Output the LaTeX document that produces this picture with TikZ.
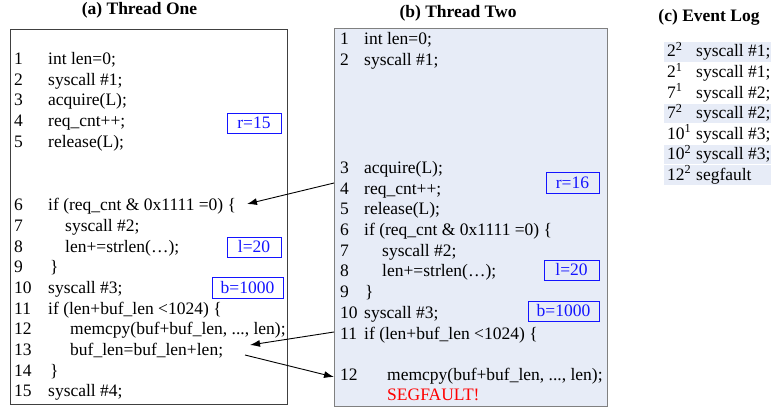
\documentclass[tikz,border=0pt]{standalone}
\usepackage{fontspec}
\setmainfont{Liberation Serif}
\usetikzlibrary{arrows.meta}
\definecolor{bgblue}{RGB}{231,236,247}
\definecolor{valblue}{RGB}{20,20,255}
\definecolor{segred}{RGB}{255,0,0}
\begin{document}
\begin{tikzpicture}[x=1pt,y=-1pt,
  code/.style={anchor=base west, inner sep=0pt, font=\fontsize{17.5}{20}\selectfont},
  ttl/.style={anchor=base, inner sep=0pt, font=\fontsize{17.5}{20}\selectfont\bfseries},
  val/.style={draw=valblue, line width=0.9pt, text=valblue, inner sep=0pt, anchor=center,
              font=\fontsize{17.5}{20}\selectfont},
  ptr/.style={-{Latex[length=10pt,width=7pt]}, line width=0.9pt},
  logrow/.style={fill=bgblue, draw=none, inner sep=0pt, anchor=north west,
                 minimum width=107, minimum height=19.5}]
\useasboundingbox (0,0) rectangle (771,412);

% titles
\node[ttl] (ta) at (139.5,15) {(a) Thread One};
\node[ttl] (tb) at (458,18) {(b) Thread Two};
\node[ttl] (tc) at (709,21.5) {(c) Event Log};

% boxes
\node[draw=black!75, line width=1pt, anchor=north west, minimum width=277, minimum height=375, inner sep=0] (boxA) at (10,29) {};
\node[draw=black!50, fill=bgblue, line width=1.2pt, anchor=north west, minimum width=273, minimum height=378, inner sep=0] (boxB) at (334,28) {};

% Thread one
\foreach \n/\y in {1/64,2/85,3/106,4/126,5/147,6/210,7/231,8/252,9/272,10/293,11/314,12/334,13/355,14/376,15/396}
  \node[code] (an\n) at (14,\y) {\n};
\node[code] (a1) at (48,64) {int len=0;};
\node[code] (a2) at (48,85) {syscall \#1;};
\node[code] (a3) at (48,106) {acquire(L);};
\node[code] (a4) at (48,126) {req\_cnt++;};
\node[code] (a5) at (48,147) {release(L);};
\node[code] (a6) at (48,210) {if (req\_cnt \& 0x1111 =0) \{};
\node[code] (a7) at (65,231) {syscall \#2;};
\node[code] (a8) at (65,252) {len+=strlen(…);};
\node[code] (a9) at (50,272) {\}};
\node[code] (a10) at (48,293) {syscall \#3;};
\node[code] (a11) at (48,314) {if (len+buf\_len <1024) \{};
\node[code] (a12) at (70,334) {memcpy(buf+buf\_len, ..., len);};
\node[code] (a13) at (70,355) {buf\_len=buf\_len+len;};
\node[code] (a14) at (50,376) {\}};
\node[code] (a15) at (48,396) {syscall \#4;};

\node[val, minimum width=54, minimum height=20] (vr1) at (254,123) {r=15};
\node[val, minimum width=54, minimum height=20] (vl1) at (254,247) {l=20};
\node[val, minimum width=71, minimum height=21] (vb1) at (247.5,287.5) {b=1000};

% Thread two
\foreach \n/\y in {1/45,2/66,3/173,4/194,5/214,6/235,7/256,8/276,9/297,10/318,11/339,12/380}
  \node[code] (bn\n) at (340,\y) {\n};
\node[code] (b1) at (364,45) {int len=0;};
\node[code] (b2) at (364,66) {syscall \#1;};
\node[code] (b3) at (364,173) {acquire(L);};
\node[code] (b4) at (364,194) {req\_cnt++;};
\node[code] (b5) at (364,214) {release(L);};
\node[code] (b6) at (364,235) {if (req\_cnt \& 0x1111 =0) \{};
\node[code] (b7) at (382,256) {syscall \#2;};
\node[code] (b8) at (382,276) {len+=strlen(…);};
\node[code] (b9) at (365,297) {\}};
\node[code] (b10) at (364,318) {syscall \#3;};
\node[code] (b11) at (364,339) {if (len+buf\_len <1024) \{};
\node[code] (b12) at (387,380) {memcpy(buf+buf\_len, ..., len);};
\node[code, text=segred] (bseg) at (387,400) {SEGFAULT!};

\node[val, minimum width=53, minimum height=21] (vr2) at (572.5,182.5) {r=16};
\node[val, minimum width=55, minimum height=20] (vl2) at (571.5,270) {l=20};
\node[val, minimum width=71, minimum height=20] (vb2) at (563.5,311) {b=1000};

% arrows
\coordinate (s1) at (334,183);
\coordinate (e1) at (247,204);
\coordinate (s2) at (334,332);
\coordinate (e2) at (250,345);
\coordinate (s3) at (245,355);
\coordinate (e3) at (334,377);
\draw[ptr] (s1) -- (e1);
\draw[ptr] (s2) -- (e2);
\draw[ptr] (s3) -- (e3);

% event log
\node[logrow] (r1) at (664,42) {};
\node[logrow] (r4) at (664,103.5) {};
\node[logrow] (r6) at (664,144.5) {};
\node[logrow] (r7) at (664,165) {};
\foreach \i/\a/\b/\t in {1/2/2/syscall \#1;,2/2/1/syscall \#1;,3/7/1/syscall \#2;,4/7/2/syscall \#2;,5/10/1/syscall \#3;,6/10/2/syscall \#3;,7/12/2/segfault}{
  \node[code] (ln\i) at (667,{42+20.5*(\i-1)+15}) {\a\textsuperscript{\b}};
  \node[code] (lt\i) at (696,{42+20.5*(\i-1)+15}) {\t};
}
\end{tikzpicture}
\end{document}
